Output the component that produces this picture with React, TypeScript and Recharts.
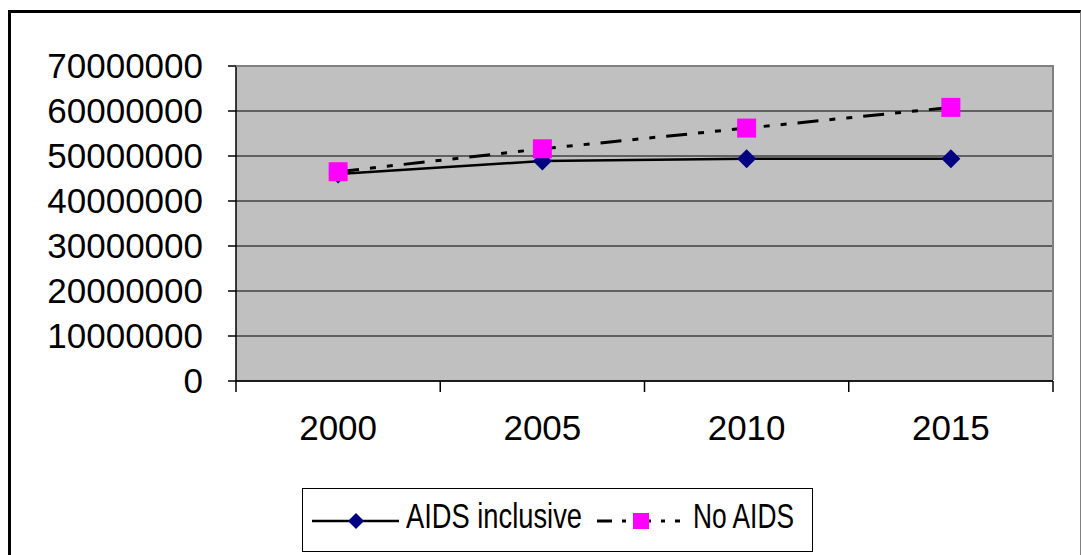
import { LineChart, Line, XAxis, YAxis, CartesianGrid } from 'recharts'

const YEARS = ['2000', '2005', '2010', '2015']
const AIDS_INCLUSIVE = [46000000, 48900000, 49400000, 49400000]
const NO_AIDS = [46500000, 51600000, 56200000, 60800000]
const Y_TICKS = [0, 10000000, 20000000, 30000000, 40000000, 50000000, 60000000, 70000000]

const data = YEARS.map((year, i) => ({
  year,
  aids: AIDS_INCLUSIVE[i],
  noAids: NO_AIDS[i],
}))

const FONT = '"Liberation Sans", Arial, sans-serif'
const W = 1081
const H = 555
const MARGIN = { top: 66, right: 28, left: 36, bottom: 114 }
const Y_AXIS_W = 200
const X_AXIS_H = 60
const PLOT_LEFT = MARGIN.left + Y_AXIS_W
const PLOT_W = W - PLOT_LEFT - MARGIN.right
const PLOT_H = H - MARGIN.top - MARGIN.bottom - X_AXIS_H
const BAND = PLOT_W / YEARS.length
const NAVY = '#000080'
const MAGENTA = '#FF00FF'
const DASH = '21 11 6 11 6 11'

function Diamond({ cx, cy, r = 9.5 }: { cx: number; cy: number; r?: number }) {
  return <path d={`M${cx},${cy - r}L${cx + r},${cy}L${cx},${cy + r}L${cx - r},${cy}Z`} fill={NAVY} />
}

function Square({ cx, cy, s = 19 }: { cx: number; cy: number; s?: number }) {
  return <rect x={cx - s / 2} y={cy - s / 2} width={s} height={s} fill={MAGENTA} />
}

function YearTick(props: any) {
  const { x, y, payload, index } = props
  const last = index === YEARS.length - 1
  return (
    <g>
      <line x1={x - BAND / 2} x2={x - BAND / 2} y1={y} y2={y + 11} stroke="#000" strokeWidth={1.5} />
      {last && <line x1={x + BAND / 2} x2={x + BAND / 2} y1={y} y2={y + 11} stroke="#000" strokeWidth={1.5} />}
      <text x={x} y={y + 59} textAnchor="middle" fontSize={35} fontFamily={FONT} fill="#000">
        {payload.value}
      </text>
    </g>
  )
}

export default function App() {
  return (
    <div style={{ position: 'absolute', left: 0, top: 0, width: W, height: H, overflow: 'hidden', background: '#fff' }}>
      {/* outer chart frame */}
      <div
        style={{
          position: 'absolute',
          left: 8,
          top: 10,
          width: W - 8,
          height: 600,
          boxSizing: 'border-box',
          borderTop: '3px solid #000',
          borderLeft: '3px solid #000',
          borderRight: '1px solid #808080',
        }}
      />
      <div style={{ position: 'absolute', left: 0, top: 0 }}>
        <LineChart width={W} height={H} data={data} margin={MARGIN}>
          <CartesianGrid horizontal vertical={false} fill="#C0C0C0" stroke="#000" strokeWidth={1} />
          <XAxis
            dataKey="year"
            scale="band"
            height={X_AXIS_H}
            tickSize={0}
            tickMargin={0}
            tickLine={false}
            axisLine={{ stroke: '#000', strokeWidth: 1.5 }}
            tick={<YearTick />}
            interval={0}
          />
          <YAxis
            width={Y_AXIS_W}
            domain={[0, 70000000]}
            ticks={Y_TICKS}
            interval={0}
            tickSize={8}
            tickMargin={25}
            tickLine={{ stroke: '#000', strokeWidth: 1.5 }}
            axisLine={{ stroke: '#000', strokeWidth: 1.5 }}
            tick={{ fontSize: 35, fontFamily: FONT, fill: '#000' }}
          />
          <Line
            dataKey="aids"
            name="AIDS inclusive"
            stroke="#000"
            strokeWidth={2.5}
            isAnimationActive={false}
            dot={(p: any) => <Diamond key={`d${p.index}`} cx={p.cx} cy={p.cy} />}
          />
          <Line
            dataKey="noAids"
            name="No AIDS"
            stroke="#000"
            strokeWidth={3}
            strokeDasharray={DASH}
            isAnimationActive={false}
            dot={(p: any) => <Square key={`s${p.index}`} cx={p.cx} cy={p.cy} />}
          />
        </LineChart>
      </div>
      {/* plot frame: gray top and right edges */}
      <div
        style={{
          position: 'absolute',
          left: PLOT_LEFT,
          top: MARGIN.top - 1,
          width: PLOT_W + 1,
          height: PLOT_H,
          boxSizing: 'border-box',
          borderTop: '2px solid #808080',
          borderRight: '2px solid #808080',
          pointerEvents: 'none',
        }}
      />
      {/* legend */}
      <svg style={{ position: 'absolute', left: 302, top: 488, overflow: 'visible' }} width={600} height={65}>
        <rect x={0.5} y={0.5} width={510} height={63} fill="#fff" stroke="#000" strokeWidth={1} />
        <line x1={10} x2={97} y1={33} y2={33} stroke="#000" strokeWidth={2.5} />
        <Diamond cx={54} cy={33} r={8} />
        <text x={104} y={40} fontSize={35} fontFamily={FONT} fill="#000" textLength={176} lengthAdjust="spacingAndGlyphs">
          AIDS inclusive
        </text>
        <line x1={295} x2={378} y1={33} y2={33} stroke="#000" strokeWidth={3} strokeDasharray="15 10 4 10" />
        <Square cx={339} cy={33} s={16} />
        <text x={391} y={40} fontSize={35} fontFamily={FONT} fill="#000" textLength={101} lengthAdjust="spacingAndGlyphs">
          No AIDS
        </text>
      </svg>
    </div>
  )
}
